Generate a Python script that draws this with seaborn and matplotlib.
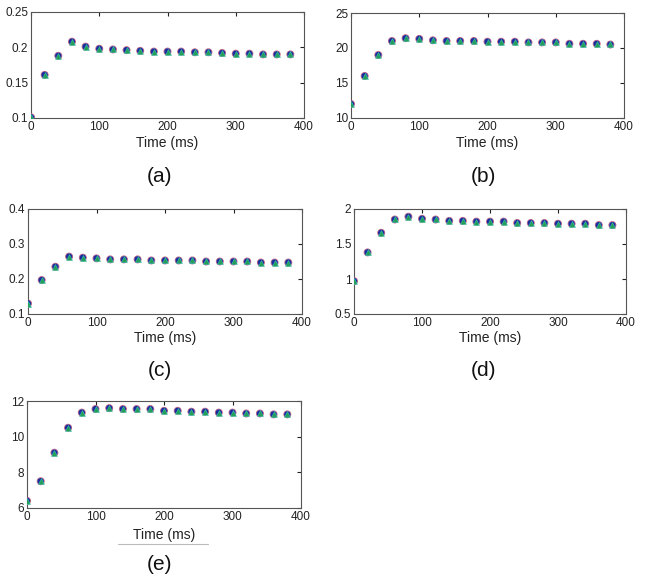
import numpy as np
import pandas as pd
import matplotlib
matplotlib.use("Agg")
import matplotlib.pyplot as plt
import seaborn as sns

# time axis (ms)
time_ms = [0, 20, 40, 60, 80, 100, 120, 140, 160, 180,
           200, 220, 240, 260, 280, 300, 320, 340, 360, 380]

vals_a = [0.101, 0.161, 0.188, 0.208, 0.201, 0.198, 0.197, 0.196, 0.195, 0.194,
          0.194, 0.194, 0.193, 0.193, 0.192, 0.191, 0.191, 0.190, 0.190, 0.190]
vals_b = [12.0, 16.0, 19.0, 21.0, 21.4, 21.3, 21.1, 21.0, 21.0, 21.0,
          20.9, 20.9, 20.9, 20.8, 20.8, 20.8, 20.6, 20.6, 20.6, 20.5]
vals_c = [0.130, 0.197, 0.235, 0.264, 0.261, 0.259, 0.256, 0.256, 0.256, 0.253,
          0.253, 0.253, 0.253, 0.250, 0.250, 0.250, 0.250, 0.247, 0.247, 0.247]
vals_d = [0.97, 1.38, 1.66, 1.85, 1.89, 1.86, 1.85, 1.83, 1.83, 1.82,
          1.82, 1.82, 1.80, 1.80, 1.80, 1.79, 1.79, 1.79, 1.77, 1.77]
vals_e = [6.4, 7.5, 9.1, 10.5, 11.35, 11.55, 11.6, 11.55, 11.55, 11.55,
          11.45, 11.45, 11.4, 11.4, 11.35, 11.35, 11.3, 11.3, 11.25, 11.25]

panel_labels = ["(a)", "(b)", "(c)", "(d)", "(e)"]
ylims = [(0.1, 0.25), (10, 25), (0.1, 0.4), (0.5, 2), (6, 12)]
yticks = [[0.1, 0.15, 0.2, 0.25], [10, 15, 20, 25], [0.1, 0.2, 0.3, 0.4],
          [0.5, 1, 1.5, 2], [6, 8, 10, 12]]
ytick_labels = [["0.1", "0.15", "0.2", "0.25"], ["10", "15", "20", "25"],
                ["0.1", "0.2", "0.3", "0.4"], ["0.5", "1", "1.5", "2"],
                ["6", "8", "10", "12"]]
all_vals = [vals_a, vals_b, vals_c, vals_d, vals_e]

sns.set_style("white")
plt.rcParams['font.family'] = ['Liberation Sans', 'DejaVu Sans']

W, H = 646, 582
fig = plt.figure(figsize=(W / 100, H / 100), dpi=100)

# axes boxes in pixels: left, top, right, bottom
boxes = [(31, 12, 304, 118), (351, 13, 624, 118),
         (28, 209, 302, 314), (354, 209, 626, 314),
         (27, 401, 301, 508)]
label_pos = [(160, 176), (483, 176), (160, 371), (483, 371), (160, 565)]
xlabel_y = [143, 143, 338, 338, 535]

for i, vals in enumerate(all_vals):
    l, t, r, b = boxes[i]
    ax = fig.add_axes([l / W, 1 - b / H, (r - l) / W, (b - t) / H])
    df = pd.DataFrame({"t": time_ms, "v": vals})
    sns.scatterplot(data=df, x="t", y="v", ax=ax, marker="o", s=26,
                    facecolor="none", edgecolor="#c8607a", linewidth=0.6, zorder=3)
    sns.scatterplot(data=df, x="t", y="v", ax=ax, marker="o", s=22,
                    color="#1c2c9c", edgecolor="none", zorder=4)
    sns.scatterplot(data=df, x="t", y="v", ax=ax, marker="^", s=18,
                    color="#22a058", edgecolor="#40c0b0", linewidth=0.4, zorder=5)
    ax.set_xlim(0, 400)
    ax.set_ylim(*ylims[i])
    ax.set_xticks([0, 100, 200, 300, 400])
    ax.set_yticks(yticks[i])
    ax.set_yticklabels(ytick_labels[i])
    ax.set_xlabel("")
    ax.set_ylabel("")
    ax.tick_params(direction="in", top=True, right=True, length=3,
                   labelsize=8.5, colors="#222222", pad=2)
    for sp in ax.spines.values():
        sp.set_color("#555555")
        sp.set_linewidth(0.8)
    cx = (l + r) / 2
    fig.text(cx / W, 1 - xlabel_y[i] / H, "Time (ms)", ha="center", va="center",
             fontsize=10, color="#222222")
    fig.text(label_pos[i][0] / W, 1 - label_pos[i][1] / H, panel_labels[i],
             ha="center", va="center", fontsize=15, color="#111111")

# thin rule under the last x label
fig.add_artist(plt.Line2D([118 / W, 208 / W], [1 - 544 / H, 1 - 544 / H],
                          color="#bbbbbb", linewidth=0.8))

fig.savefig("out.png", dpi=100)
